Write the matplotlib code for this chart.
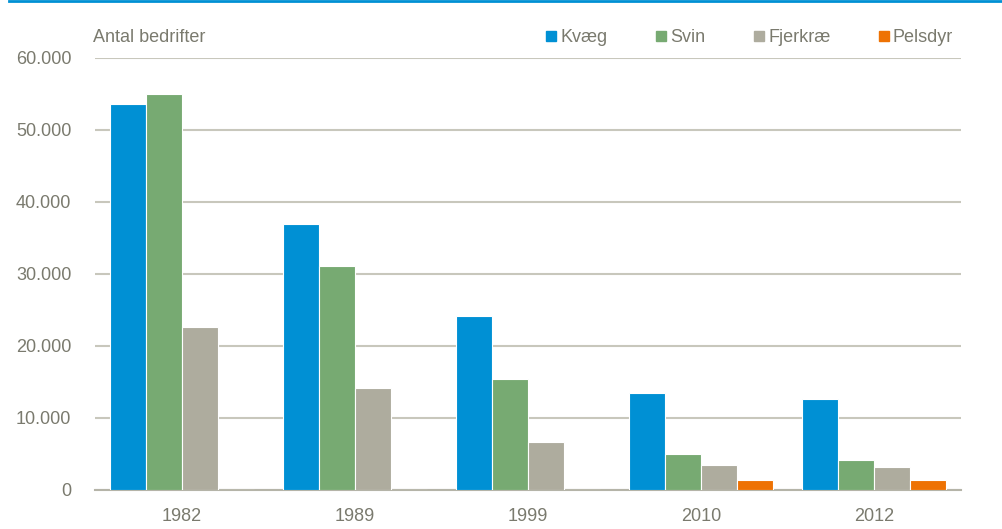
import matplotlib
matplotlib.use("Agg")
import matplotlib.pyplot as plt
import numpy as np
from matplotlib.lines import Line2D
from matplotlib.patches import Rectangle

years = ["1982", "1989", "1999", "2010", "2012"]
series = ["Kvæg", "Svin", "Fjerkræ", "Pelsdyr"]
kvaeg = [53600, 37000, 24200, 13500, 12600]
svin = [55000, 31100, 15400, 5000, 4100]
fjerkrae = [22600, 14100, 6700, 3500, 3200]
pelsdyr = [0, 0, 0, 1400, 1400]
yticks = [0, 10000, 20000, 30000, 40000, 50000, 60000]
ytick_labels = ["0", "10.000", "20.000", "30.000", "40.000", "50.000", "60.000"]

COLORS = ["#0090D4", "#77AA72", "#AEAC9E", "#EE7203"]
TXT = "#7A7A6E"
GRID = "#C8C7BC"
FS = 13

plt.rcParams["font.family"] = ["Liberation Sans", "DejaVu Sans"]

W, H = 1002, 529
fig = plt.figure(figsize=(W / 100, H / 100), dpi=100)
ax = fig.add_axes([95 / W, 1 - 490 / H, 866 / W, 432 / H])

x = np.arange(len(years))
w = 0.208
for i, (vals, c) in enumerate(zip([kvaeg, svin, fjerkrae, pelsdyr], COLORS)):
    ax.bar(x + (i - 1.5) * w, vals, w, color=c, edgecolor="white", linewidth=0.8,
           zorder=3, label=series[i])

ax.set_xlim(-0.5, len(years) - 0.5)
ax.set_ylim(0, 60000)
ax.set_yticks(yticks)
ax.set_yticklabels(ytick_labels)
ax.set_xticks(x)
ax.set_xticklabels(years)
ax.tick_params(length=0, labelsize=FS, labelcolor=TXT)
ax.tick_params(axis="y", pad=17)
ax.tick_params(axis="x", pad=13)
ax.grid(axis="y", color=GRID, lw=1.5, zorder=0)
for s in ["top", "right", "left"]:
    ax.spines[s].set_visible(False)
ax.spines["bottom"].set_color("#B5B4A8")
ax.spines["bottom"].set_linewidth(1.5)

fig.text(93 / W, 1 - 38 / H, "Antal bedrifter", fontsize=FS, color=TXT, va="center")

# legend drawn by hand to match spacing
leg_x = [546, 656, 754, 879]
for lx, name, c in zip(leg_x, series, COLORS):
    fig.add_artist(Rectangle((lx / W, 1 - 41 / H), 10 / W, 10 / H, color=c,
                             transform=fig.transFigure))
    fig.text((lx + 14) / W, 1 - 37 / H, name, fontsize=FS, color=TXT, va="center")

fig.add_artist(Line2D([9 / W, 1], [1 - 1 / H, 1 - 1 / H], color="#0090D4", lw=2,
                      transform=fig.transFigure))

fig.savefig("out.png", dpi=100)
